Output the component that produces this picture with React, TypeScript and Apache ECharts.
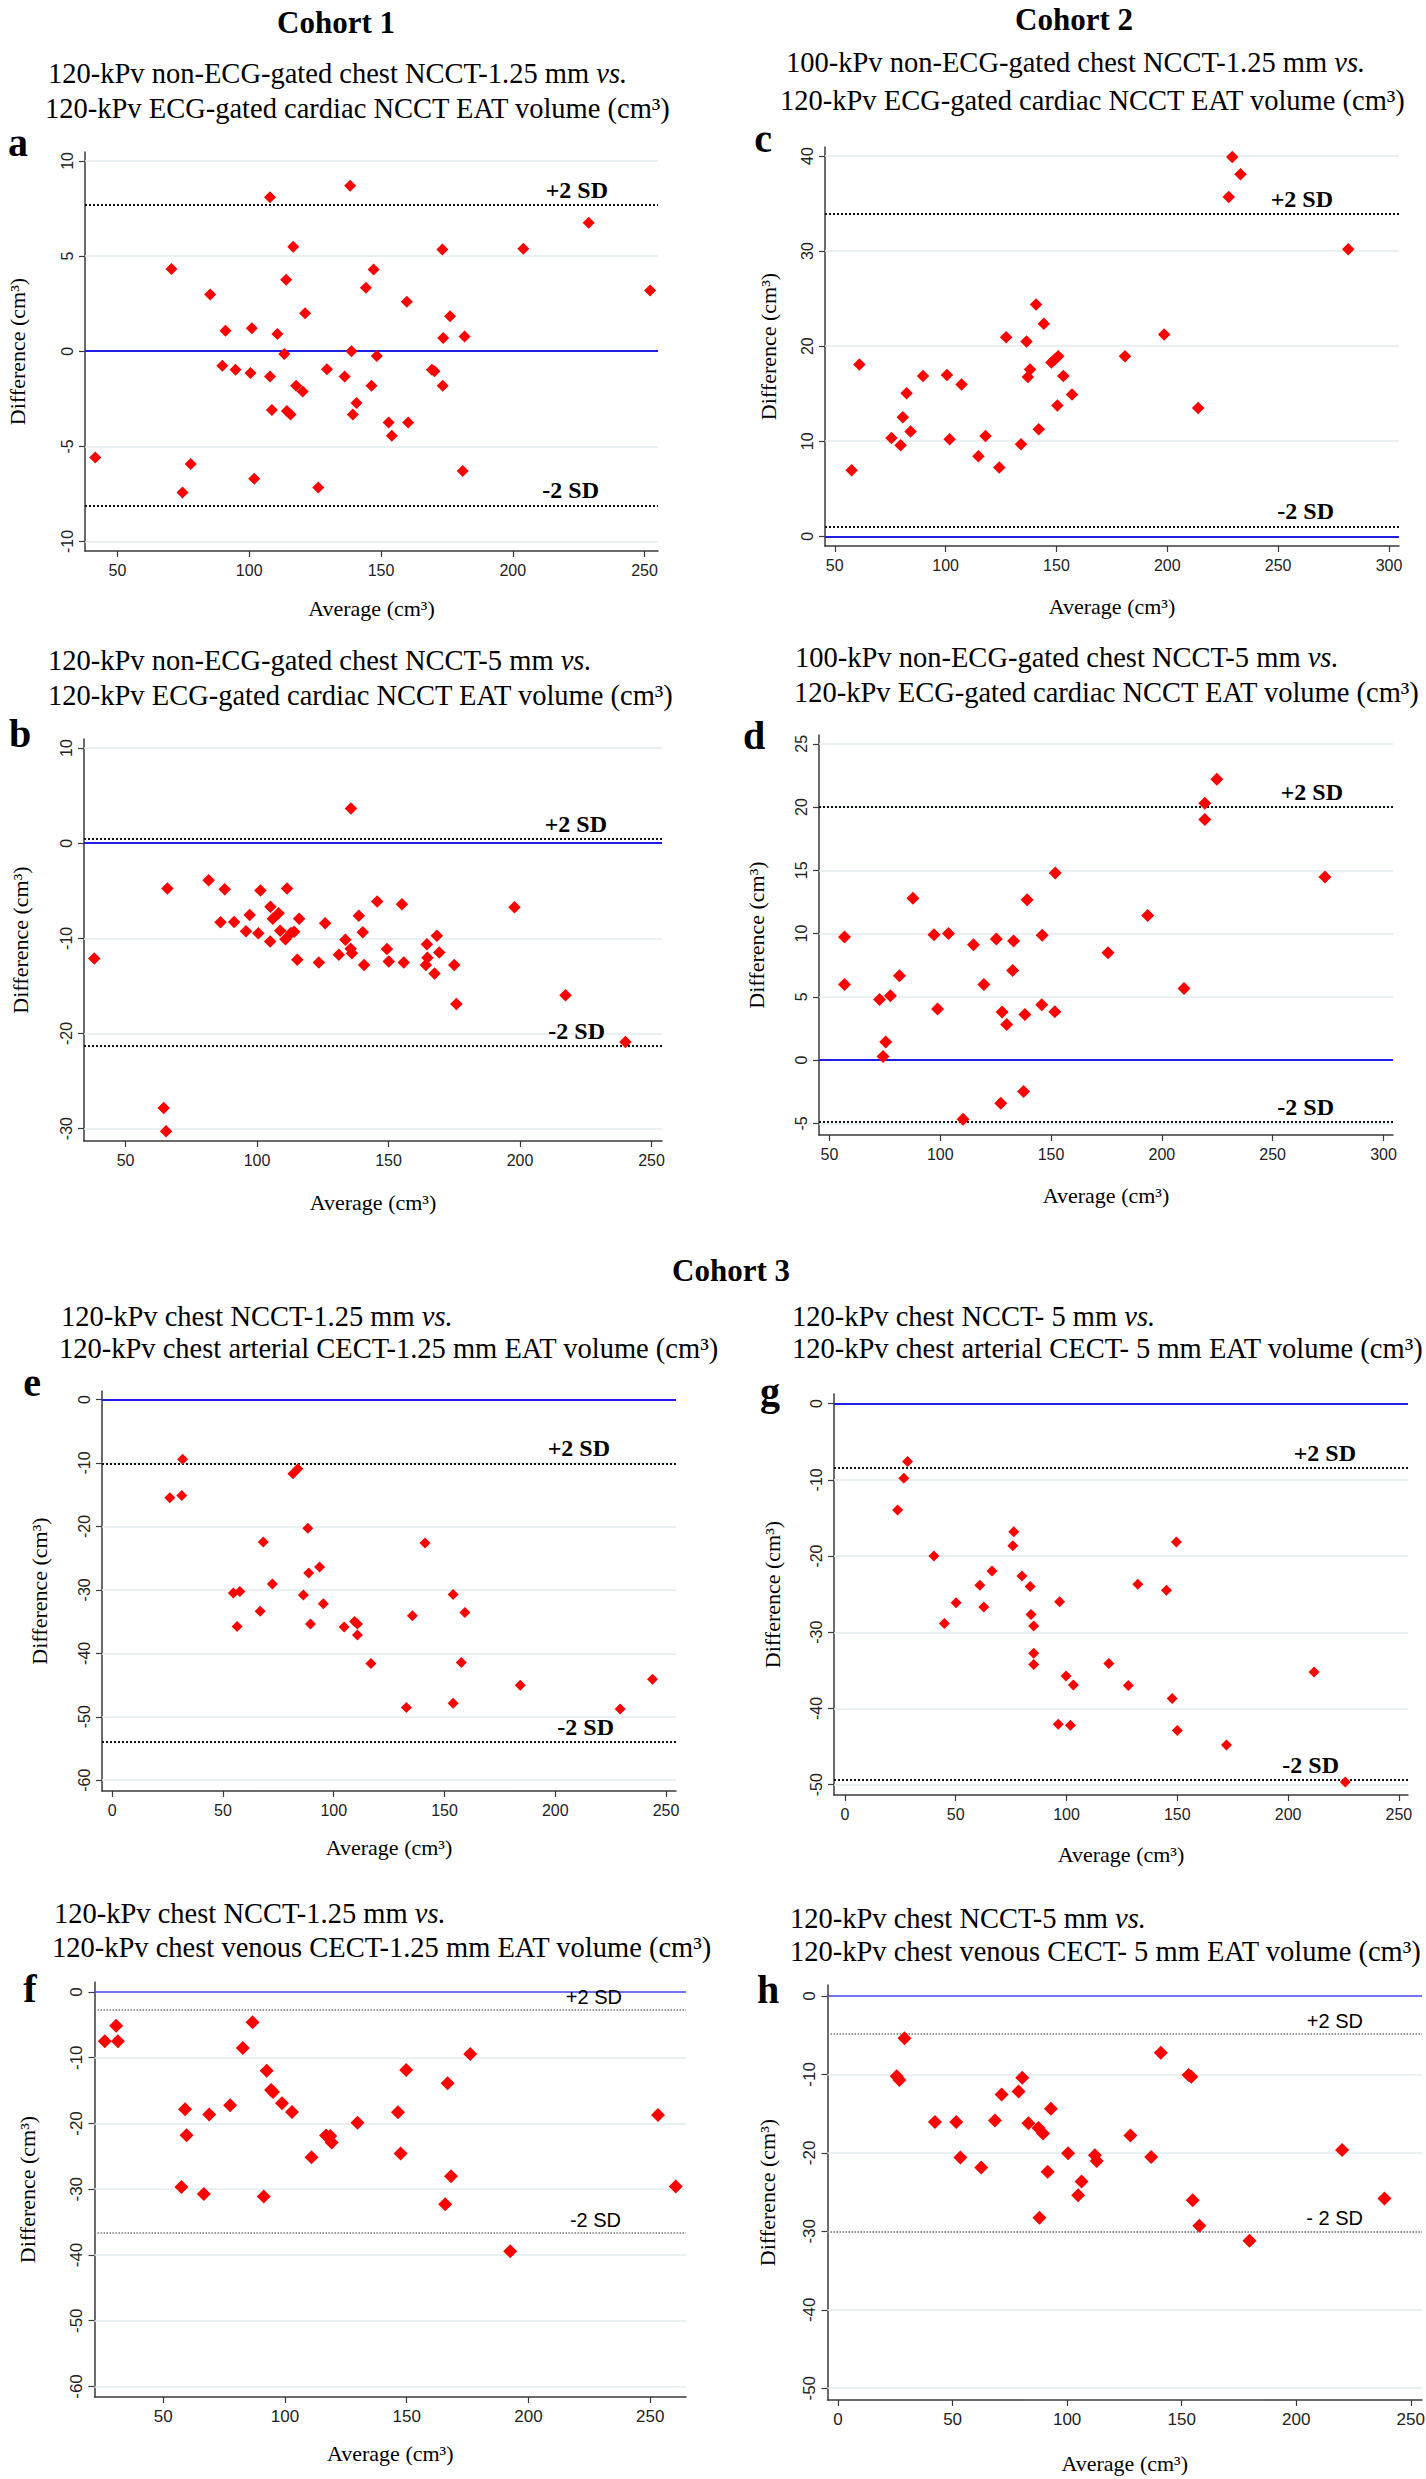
import React, { useEffect, useRef } from "react";
import * as echarts from "echarts";

const W = 1426;
const H = 2479;
const SERIF = '"Liberation Serif", "Times New Roman", serif';
const SANS = '"Liberation Sans", Arial, sans-serif';

// ---------- data: [average, difference] ----------
const aPoints = [
  [41.6, -5.58], [70.5, 4.32], [74.7, -7.42], [77.8, -5.93], [85.2, 2.98], [89.8, -0.77], [91.0, 1.07],
  [94.8, -0.98], [100.5, -1.14], [101.0, 1.21], [101.9, -6.7], [107.9, -1.33], [107.9, 8.09], [108.6, -3.09],
  [110.7, 0.91], [113.3, -0.14], [114.0, 3.75], [114.3, -3.14], [115.7, -3.32], [116.7, 5.49], [117.8, -1.82],
  [120.3, -2.12], [121.2, 2.0], [126.2, -7.16], [129.5, -0.95], [136.2, -1.33], [138.3, 8.7], [138.8, 0.0],
  [139.3, -3.33], [140.7, -2.72], [144.3, 3.33], [146.4, -1.82], [147.2, 4.3], [148.4, -0.25], [152.9, -3.74],
  [154.1, -4.44], [159.8, 2.6], [160.3, -3.74], [169.3, -0.98], [170.3, -1.05], [173.3, 5.35], [173.6, 0.7],
  [173.4, -1.82], [176.2, 1.84], [181.0, -6.3], [181.7, 0.77], [204.0, 5.39], [228.8, 6.75], [252.1, 3.19],
];
const bPoints = [
  [135.7, 3.65], [65.9, -4.77], [81.6, -3.89], [87.7, -4.84], [101.3, -4.98], [111.4, -4.77], [105.1, -6.67],
  [145.7, -6.14], [155.1, -6.42], [197.9, -6.74], [97.2, -7.55], [108.2, -7.36], [106.0, -7.93], [116.0, -7.94],
  [138.7, -7.62], [86.1, -8.31], [91.3, -8.28], [125.9, -8.42], [95.8, -9.26], [100.5, -9.47], [108.8, -9.19],
  [112.9, -9.44], [114.1, -9.3], [105.0, -10.32], [110.8, -10.1], [140.2, -9.37], [133.6, -10.14], [168.4, -9.72],
  [38.1, -12.11], [115.3, -12.25], [123.5, -12.53], [131.1, -11.72], [135.6, -11.09], [136.1, -11.58],
  [140.7, -12.81], [149.4, -11.12], [150.1, -12.43], [155.8, -12.53], [164.6, -10.63], [164.8, -12.04],
  [164.2, -12.81], [169.3, -11.48], [167.5, -13.69], [175.0, -12.81], [175.8, -16.89], [217.3, -15.98],
  [240.1, -20.9], [64.5, -27.82], [65.4, -30.28],
];
const cPoints = [
  [57.6, 6.95], [61.1, 18.06], [75.6, 10.35], [79.7, 9.58], [80.7, 12.52], [82.4, 15.05], [84.2, 11.02],
  [89.8, 16.87], [100.6, 16.97], [101.8, 10.21], [107.2, 15.96], [114.8, 8.42], [118.0, 10.56], [124.2, 7.23],
  [127.3, 20.94], [134.0, 9.68], [136.5, 20.48], [137.1, 16.76], [138.1, 17.54], [140.8, 24.37], [142.0, 11.26],
  [144.3, 22.37], [147.7, 18.27], [149.2, 18.59], [150.8, 18.94], [150.4, 13.75], [153.1, 16.87], [157.0, 14.91],
  [180.9, 18.94], [198.6, 21.22], [213.9, 13.5], [227.7, 35.69], [229.3, 39.9], [233.0, 38.08], [281.6, 30.19],
];
const dPoints = [
  [224.8, 22.2], [219.4, 20.31], [219.4, 19.03], [273.6, 14.48], [151.9, 14.79], [87.7, 12.8], [139.2, 12.67],
  [193.6, 11.44], [56.8, 9.74], [97.2, 9.9], [103.7, 10.0], [115.0, 9.11], [125.3, 9.58], [133.1, 9.42],
  [146.0, 9.87], [175.7, 8.48], [132.7, 7.09], [56.8, 5.98], [72.6, 4.8], [77.5, 5.09], [81.6, 6.67],
  [75.4, 1.44], [74.2, 0.29], [98.8, 4.04], [119.7, 5.98], [127.9, 3.81], [130.0, 2.81], [138.2, 3.6],
  [145.8, 4.38], [151.7, 3.83], [210.0, 5.67], [137.6, -2.49], [127.3, -3.41], [110.3, -4.67],
];
const ePoints = [
  [31.8, -9.39], [26.0, -15.47], [31.4, -15.13], [81.6, -11.7], [83.8, -10.91], [88.3, -20.3], [68.2, -22.44],
  [141.2, -22.61], [93.6, -26.38], [88.7, -27.33], [72.3, -29.08], [54.7, -30.48], [57.6, -30.26], [86.3, -30.82],
  [153.9, -30.71], [95.3, -32.17], [66.8, -33.35], [135.5, -34.08], [159.2, -33.58], [56.4, -35.77], [89.5, -35.38],
  [104.7, -35.83], [109.4, -34.98], [110.7, -35.38], [110.7, -37.12], [116.8, -41.62], [157.6, -41.45],
  [184.2, -45.05], [243.9, -44.1], [132.8, -48.54], [153.9, -47.86], [229.3, -48.76],
];
const gPoints = [
  [28.3, -7.59], [26.6, -9.79], [23.8, -13.96], [40.2, -20.0], [44.9, -28.85], [50.2, -26.14], [60.9, -23.84],
  [62.7, -26.7], [66.4, -21.97], [76.2, -16.81], [75.8, -18.64], [79.9, -22.62], [83.6, -23.98], [84.0, -27.68],
  [85.2, -29.18], [85.2, -32.74], [85.2, -34.24], [96.9, -26.0], [99.8, -35.74], [103.1, -36.91], [96.3, -42.06],
  [101.8, -42.2], [119.1, -34.1], [127.9, -37.0], [132.2, -23.7], [145.1, -24.5], [149.6, -18.17], [147.7, -38.69],
  [150.0, -42.9], [211.7, -35.22], [172.2, -44.8], [225.8, -49.65],
];
const fPoints = [
  [26.0, -7.5], [30.7, -5.12], [31.4, -7.5], [57.5, -29.65], [59.0, -17.84], [59.6, -21.79], [66.7, -30.71],
  [68.9, -18.65], [77.5, -17.23], [82.7, -8.51], [86.7, -4.61], [91.3, -31.12], [92.5, -11.96], [94.3, -14.9],
  [95.1, -15.2], [98.8, -16.93], [102.9, -18.25], [110.9, -25.14], [116.9, -21.84], [118.6, -21.9],
  [119.2, -22.91], [129.8, -19.87], [146.4, -18.3], [147.5, -24.58], [149.8, -11.86], [165.8, -32.29],
  [166.8, -13.89], [168.2, -28.03], [176.1, -9.43], [192.5, -39.43], [253.2, -18.7], [260.5, -29.6],
];
const hPoints = [
  [29.0, -5.39], [25.6, -10.24], [26.8, -10.72], [42.3, -16.05], [51.6, -16.05], [53.4, -20.6], [62.5, -21.86],
  [68.5, -15.87], [71.4, -12.57], [78.8, -12.16], [80.4, -10.42], [83.1, -16.23], [87.5, -16.83], [89.5, -17.54],
  [92.9, -14.37], [91.5, -22.4], [87.9, -28.26], [100.4, -20.06], [104.8, -25.39], [106.3, -23.65],
  [112.1, -20.3], [112.9, -21.02], [127.6, -17.78], [136.7, -20.54], [140.9, -7.25], [153.0, -10.06],
  [154.2, -10.3], [154.8, -26.05], [157.7, -29.28], [179.6, -31.2], [220.0, -19.64], [238.5, -25.81],
];

// limits of agreement (+2 SD, -2 SD)
const aLimits = [7.7, -8.1];
const bLimits = [0.42, -21.27];
const cLimits = [33.9, 1.05];
const dLimits = [20.0, -4.9];
const eLimits = [-10.05, -54.0];
const gLimits = [-8.39, -49.4];
const fLimits = [-2.69, -36.65];
const hLimits = [-4.79, -30.0];

// tick labels
const xTicks50 = [50, 100, 150, 200, 250];
const xTicks50to300 = [50, 100, 150, 200, 250, 300];
const xTicks0 = [0, 50, 100, 150, 200, 250];
const aYTicks = [-10, -5, 0, 5, 10];
const bYTicks = [-30, -20, -10, 0, 10];
const cYTicks = [0, 10, 20, 30, 40];
const dYTicks = [-5, 0, 5, 10, 15, 20, 25];
const eYTicks = [-60, -50, -40, -30, -20, -10, 0];
const gYTicks = [-50, -40, -30, -20, -10, 0];
const fYTicks = [-60, -50, -40, -30, -20, -10, 0];
const hYTicks = [-50, -40, -30, -20, -10, 0];

// ---------- layout / styles ----------
const panels: any[] = [
  { points: aPoints, lim: aLimits, xTicks: xTicks50, yTicks: aYTicks, xr: [37.7, 255.1], yr: [-10.5, 10.47],
    g: [85, 152, 573, 399], size: 12, bold: true, sdR: [50, 59], xGap: 46, yGap: 57, lo: "-2 SD" },
  { points: bPoints, lim: bLimits, xTicks: xTicks50, yTicks: bYTicks, xr: [34.2, 254], yr: [-31.3, 10.95],
    g: [84, 739, 578, 402], size: 12.5, bold: true, sdR: [55, 57], xGap: 50, yGap: 53, lo: "-2 SD" },
  { points: cPoints, lim: cLimits, xTicks: xTicks50to300, yTicks: cYTicks, xr: [45.6, 304.5], yr: [-1.02, 40.95],
    g: [825, 147, 574, 399], size: 12.5, bold: true, sdR: [66, 65], xGap: 49, yGap: 46, lo: "-2 SD" },
  { points: dPoints, lim: dLimits, xTicks: xTicks50to300, yTicks: dYTicks, xr: [45.3, 304.3], yr: [-5.92, 25.7],
    g: [819, 735, 574, 400], size: 13, bold: true, sdR: [50, 59], xGap: 49, yGap: 52, lo: "-2 SD" },
  { points: ePoints, lim: eLimits, xTicks: xTicks0, yTicks: eYTicks, xr: [-4.6, 254.5], yr: [-61.7, 1.35],
    g: [102, 1391, 574, 400], size: 11, bold: true, sdR: [66, 62], xGap: 45, yGap: 52, lo: "-2 SD" },
  { points: gPoints, lim: gLimits, xTicks: xTicks0, yTicks: gYTicks, xr: [-4.9, 254.1], yr: [-51.35, 1.26],
    g: [834, 1394, 574, 401], size: 11, bold: true, sdR: [52, 69], xGap: 48, yGap: 51, lo: "-2 SD" },
  { points: fPoints, lim: fLimits, xTicks: xTicks50, yTicks: fYTicks, xr: [21.8, 264.7], yr: [-61.6, 1.52],
    g: [94.5, 1982, 591.5, 415], size: 14, bold: false, sdR: [64, 65], xGap: 45, yGap: 56, lo: "-2 SD" },
  { points: hPoints, lim: hLimits, xTicks: xTicks0, yTicks: hYTicks, xr: [-4.6, 254.9], yr: [-51.5, 1.4],
    g: [827.5, 1985, 594.5, 415], size: 14, bold: false, sdR: [59, 59], xGap: 52, yGap: 49, lo: "- 2 SD" },
];

const AXIS_COLOR = "#3a3a3a";
const GRID_COLOR = "#E2EBEE";

function text(x: number, y: number, t: string, fontSize: number, opts: any = {}) {
  const align = opts.align || "left";
  return {
    type: "text",
    x,
    y,
    silent: true,
    style: {
      text: t,
      fill: "#000",
      fontFamily: opts.family || SERIF,
      fontSize,
      fontWeight: opts.weight || "normal",
      align,
      textAlign: align,
      verticalAlign: "middle",
      textVerticalAlign: "middle",
      rich: opts.rich,
    },
  };
}

const SUB = 28.5;
const italicRich = { i: { fontStyle: "italic", fontSize: SUB, fontFamily: SERIF, fill: "#000" } };

const titles = [
  text(336, 22, "Cohort 1", 31, { weight: "bold", align: "center" }),
  text(1074, 19, "Cohort 2", 31, { weight: "bold", align: "center" }),
  text(731, 1270, "Cohort 3", 31, { weight: "bold", align: "center" }),
  text(48, 73, "120-kPv non-ECG-gated chest NCCT-1.25 mm {i|vs.}", SUB, { rich: italicRich }),
  text(45, 108, "120-kPv ECG-gated cardiac NCCT EAT volume (cm³)", SUB),
  text(786, 62, "100-kPv non-ECG-gated chest NCCT-1.25 mm {i|vs.}", SUB, { rich: italicRich }),
  text(780, 100, "120-kPv ECG-gated cardiac NCCT EAT volume (cm³)", SUB),
  text(48, 660, "120-kPv non-ECG-gated chest NCCT-5 mm {i|vs.}", SUB, { rich: italicRich }),
  text(48, 695, "120-kPv ECG-gated cardiac NCCT EAT volume (cm³)", SUB),
  text(795, 657, "100-kPv non-ECG-gated chest NCCT-5 mm {i|vs.}", SUB, { rich: italicRich }),
  text(794, 692, "120-kPv ECG-gated cardiac NCCT EAT volume (cm³)", SUB),
  text(61, 1316, "120-kPv chest NCCT-1.25 mm {i|vs.}", SUB, { rich: italicRich }),
  text(59, 1348, "120-kPv chest arterial CECT-1.25 mm EAT volume (cm³)", SUB),
  text(792, 1316, "120-kPv chest NCCT- 5 mm {i|vs.}", SUB, { rich: italicRich }),
  text(792, 1348, "120-kPv chest arterial CECT- 5 mm EAT volume (cm³)", SUB),
  text(54, 1913, "120-kPv chest NCCT-1.25 mm {i|vs.}", SUB, { rich: italicRich }),
  text(52, 1947, "120-kPv chest venous CECT-1.25 mm EAT volume (cm³)", SUB),
  text(790, 1918, "120-kPv chest NCCT-5 mm {i|vs.}", SUB, { rich: italicRich }),
  text(790, 1951, "120-kPv chest venous CECT- 5 mm EAT volume (cm³)", SUB),
  text(18, 142, "a", 40, { weight: "bold", align: "center" }),
  text(763, 138, "c", 40, { weight: "bold", align: "center" }),
  text(20, 733, "b", 40, { weight: "bold", align: "center" }),
  text(754, 735, "d", 40, { weight: "bold", align: "center" }),
  text(32, 1382, "e", 40, { weight: "bold", align: "center" }),
  text(770, 1391, "g", 40, { weight: "bold", align: "center" }),
  text(30, 1988, "f", 40, { weight: "bold", align: "center" }),
  text(768, 1989, "h", 40, { weight: "bold", align: "center" }),
];

function buildOption() {
  const grid: any[] = [];
  const xAxis: any[] = [];
  const yAxis: any[] = [];
  const series: any[] = [];
  panels.forEach((p, i) => {
    const [left, top, width, height] = p.g;
    grid.push({ left, top, width, height, containLabel: false, outerBoundsMode: "none" });
    const tickFont = p.bold ? 16 : 17;
    xAxis.push({
      type: "value",
      gridIndex: i,
      min: p.xr[0],
      max: p.xr[1],
      axisLine: { show: true, onZero: false, lineStyle: { color: AXIS_COLOR, width: 1.5 } },
      axisTick: { show: true, length: 6, inside: false, customValues: p.xTicks, lineStyle: { color: AXIS_COLOR, width: 1.2 } },
      axisLabel: { customValues: p.xTicks, margin: 11, fontSize: tickFont, fontFamily: SANS, color: "#222" },
      splitLine: { show: false },
      name: "Average (cm³)",
      nameLocation: "middle",
      nameGap: p.xGap,
      nameTextStyle: { fontFamily: SERIF, fontSize: 22, color: "#000" },
    });
    yAxis.push({
      type: "value",
      gridIndex: i,
      min: p.yr[0],
      max: p.yr[1],
      axisLine: { show: true, onZero: false, lineStyle: { color: AXIS_COLOR, width: 1.5 } },
      axisTick: { show: true, length: 6, inside: false, customValues: p.yTicks, lineStyle: { color: AXIS_COLOR, width: 1.2 } },
      axisLabel: { customValues: p.yTicks, rotate: 90, margin: 10, fontSize: tickFont, fontFamily: SANS, color: "#222" },
      splitLine: { show: false },
      name: "Difference (cm³)",
      nameLocation: "middle",
      nameRotate: 90,
      nameGap: p.yGap,
      nameTextStyle: { fontFamily: SERIF, fontSize: 22, color: "#000" },
    });

    const gridLines = p.yTicks
      .filter((v: number) => v !== 0)
      .map((v: number) => ({
        yAxis: v,
        lineStyle: { color: GRID_COLOR, width: 1.5, type: "solid" },
        label: { show: false },
      }));
    const sdLabel = (txt: string, right: number) => ({
      show: true,
      formatter: txt,
      position: "insideEndTop",
      distance: 3,
      padding: [0, right - 3, 0, 0],
      color: "#000",
      fontFamily: p.bold ? SERIF : SANS,
      fontWeight: p.bold ? "bold" : "normal",
      fontSize: p.bold ? 24 : 20,
    });
    const dotStyle = p.bold
      ? { color: "#111", width: 2, type: "dotted" }
      : { color: "#777", width: 1.5, type: "dotted" };
    const zeroLine = {
      yAxis: 0,
      lineStyle: p.bold ? { color: "#1E1EE6", width: 2.2, type: "solid" } : { color: "#4646E8", width: 1.6, type: "solid" },
      label: { show: false },
    };
    series.push({
      type: "scatter",
      xAxisIndex: i,
      yAxisIndex: i,
      data: p.points,
      symbol: "diamond",
      symbolSize: p.size,
      itemStyle: { color: "#FF0000", opacity: 1 },
      z: 3,
      silent: true,
      markLine: {
        silent: true,
        symbol: ["none", "none"],
        animation: false,
        z: 1,
        data: [
          ...gridLines,
          zeroLine,
          { yAxis: p.lim[0], lineStyle: dotStyle, label: sdLabel("+2 SD", p.sdR[0]) },
          { yAxis: p.lim[1], lineStyle: dotStyle, label: sdLabel(p.lo, p.sdR[1]) },
        ],
      },
    });
  });

  return {
    animation: false,
    backgroundColor: "#ffffff",
    grid,
    xAxis,
    yAxis,
    series,
    graphic: titles,
  };
}

export default function App() {
  const ref = useRef<HTMLDivElement | null>(null);
  useEffect(() => {
    if (!ref.current) return;
    const chart = echarts.init(ref.current, null, { renderer: "svg", width: W, height: H });
    chart.setOption(buildOption() as any);
    return () => chart.dispose();
  }, []);
  return (
    <div
      ref={ref}
      style={{ position: "absolute", left: 0, top: 0, width: W, height: H, background: "#fff" }}
    />
  );
}
